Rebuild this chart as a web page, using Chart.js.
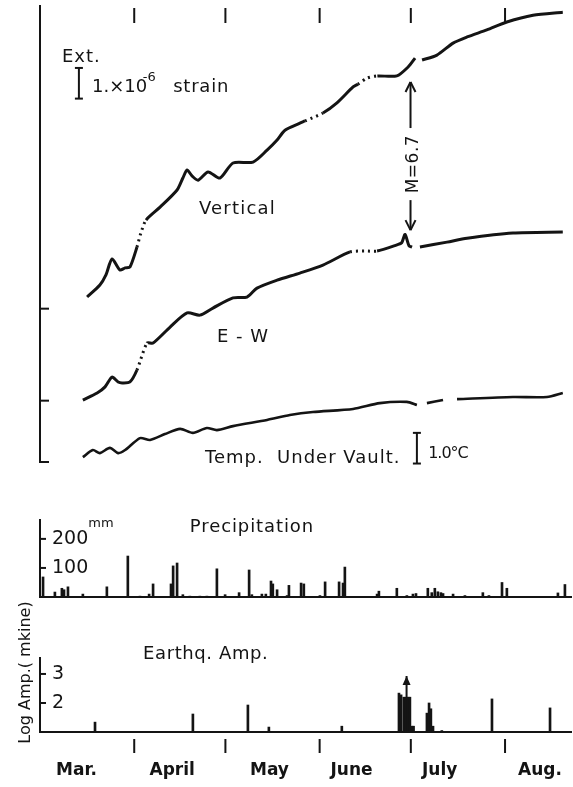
<!DOCTYPE html>
<html>
<head>
<meta charset="utf-8">
<script src="https://cdn.jsdelivr.net/npm/chart.js@4.4.1/dist/chart.umd.min.js"></script>
<style>
  body { margin: 0; background: #fff; }
  #wrap { position: relative; width: 573px; height: 787px; }
  canvas { position: absolute; left: 0; }
</style>
</head>
<body>
<div id="wrap">
  <canvas id="strainChart" width="573" height="472" style="top:0"></canvas>
  <canvas id="rainChart" width="573" height="125" style="top:480px"></canvas>
  <canvas id="quakeChart" width="573" height="197" style="top:590px"></canvas>
</div>
<script>
// time axis: days counted from March 1
const monthStarts = [31, 61, 92, 122, 153];
const monthNames = ["Mar.", "April", "May", "June", "July", "Aug."];
const monthLabelDays = [12, 43.5, 75.5, 102.5, 131.5, 164.5];

// strain traces, in units of 1e-6 strain (offset per trace)
const verticalDays = [15.5, 19.7, 21.7, 23.7, 26.3, 28.0, 29.6, 31.9, 33.2, 34.9, 39.5, 45.1, 47.0, 48.4, 50.0, 52.0, 55.3, 59.2, 63.5, 70.1, 74.7, 78.0, 80.6, 85.5, 87.2, 93.1, 97.7, 103.0, 104.6, 107.6, 111.0, 117.4, 121.1, 123.4, 124.5, 125.7, 130.6, 135.9, 140.5, 147.0, 153.6, 162.2, 172.0];
const verticalStrain = [5.38, 5.77, 6.10, 6.62, 6.26, 6.33, 6.36, 7.01, 7.47, 7.89, 8.31, 8.87, 9.26, 9.52, 9.33, 9.19, 9.46, 9.26, 9.75, 9.78, 10.17, 10.50, 10.82, 11.05, 11.12, 11.38, 11.71, 12.23, 12.32, 12.52, 12.59, 12.59, 12.88, 13.17, null, 13.11, 13.27, 13.66, 13.86, 14.09, 14.35, 14.57, 14.67];

const ewDays = [14.1, 18.8, 21.4, 23.7, 25.7, 27.0, 29.6, 31.9, 35.2, 37.2, 42.8, 48.4, 52.6, 56.9, 63.5, 68.1, 71.4, 78.0, 85.5, 93.1, 102.0, 106.9, 110.9, 117.4, 119.0, 120.1, 121.4, 122.4, 123.7, 125.0, 133.9, 140.5, 155.6, 172.0];
const ewStrain = [2.02, 2.25, 2.45, 2.77, 2.61, 2.58, 2.61, 3.00, 3.88, 3.88, 4.40, 4.86, 4.79, 5.02, 5.35, 5.38, 5.67, 5.93, 6.16, 6.42, 6.85, 6.88, 6.88, 7.08, 7.15, 7.42, 7.05, 7.01, null, 7.01, 7.17, 7.30, 7.47, 7.50];

// temperature under vault, deg C (offset)
const tempDays = [14.1, 17.4, 19.7, 23.0, 25.7, 28.0, 32.9, 36.2, 41.1, 46.1, 50.3, 54.9, 58.2, 63.5, 74.7, 82.2, 89.8, 103.0, 111.8, 120.7, 124.0, 125.5, 127.3, 132.6, 134.9, 137.2, 155.6, 166.8, 172.0];
const tempValues = [0.16, 0.39, 0.29, 0.46, 0.29, 0.39, 0.78, 0.72, 0.91, 1.08, 0.95, 1.11, 1.04, 1.17, 1.37, 1.53, 1.63, 1.73, 1.92, 1.96, 1.86, null, 1.92, 2.02, null, 2.05, 2.12, 2.12, 2.25];

const strainTicks = [0, 2, 5];

// precipitation, mm
const precipDays = [1.0, 4.9, 7.2, 7.9, 9.2, 14.1, 22.0, 28.9, 32.9, 35.9, 37.2, 43.1, 43.8, 45.1, 47.0, 49.3, 52.6, 54.9, 58.2, 60.9, 65.5, 68.8, 69.7, 73.0, 74.3, 76.0, 76.6, 78.0, 81.3, 81.9, 85.9, 86.8, 92.1, 93.8, 98.4, 99.7, 100.3, 110.9, 111.5, 117.4, 120.7, 122.7, 123.7, 127.6, 128.9, 129.9, 130.9, 131.9, 132.6, 135.9, 139.8, 145.7, 147.7, 152.0, 153.6, 170.4, 172.7];
const precipMm = [69, 17, 30, 25, 35, 10, 35, 141, 3, 10, 45, 45, 107, 117, 8, 3, 3, 3, 97, 8, 15, 93, 8, 10, 10, 55, 45, 25, 5, 40, 48, 45, 5, 52, 52, 48, 103, 10, 20, 30, 5, 10, 12, 30, 15, 30, 18, 15, 12, 10, 5, 15, 5, 50, 30, 14, 43];
const precipTicks = [100, 200];

// earthquake amplitude, log (mkine)
const quakeDays = [18.1, 50.3, 68.4, 75.3, 99.3, 118.1, 118.8, 119.7, 120.4, 121.1, 121.7, 122.4, 122.9, 127.3, 128.0, 128.6, 129.3, 132.2, 148.7, 167.8];
const quakeLogAmp = [1.34, 1.62, 1.93, 1.17, 1.2, 2.34, 2.28, 2.2, 2.2, 2.2, 2.2, 1.2, 1.2, 1.65, 2.0, 1.8, 1.2, 1.05, 2.14, 1.83];
const quakeTicks = [2, 3];

const mainShockDay = 121.9;   // M=6.7
const offScaleDay = 120.6;    // amplitude beyond scale

const ink = '#141414';
const FONT = '"DejaVu Sans", sans-serif';
const dayMax = 174.7;

const pts = (xs, ys) => xs.map((x, i) => ({ x: x, y: ys[i] }));

// stretches of the traces drawn dotted in the original
const dottedSpans = {
  vertical: [[31.9, 34.9], [87.2, 93.1], [104.6, 111.0]],
  ew: [[31.9, 35.2], [102.0, 110.9]],
  temp: []
};

function traceStyle(spans, width) {
  return {
    borderColor: ink,
    borderWidth: width,
    pointRadius: 0,
    tension: 0.25,
    fill: false,
    segment: {
      borderDash: c => {
        const mid = (c.p0.parsed.x + c.p1.parsed.x) / 2;
        return spans.some(s => mid > s[0] && mid < s[1]) ? [2, 4] : undefined;
      }
    }
  };
}

function text(ctx, str, x, y, size, spacing, extra) {
  ctx.save();
  ctx.font = (extra && extra.weight ? extra.weight + ' ' : '') + size + 'px ' + FONT;
  ctx.fillStyle = ink;
  ctx.letterSpacing = (spacing || 0) + 'px';
  ctx.textAlign = (extra && extra.align) || 'left';
  ctx.textBaseline = 'alphabetic';
  ctx.fillText(str, x, y);
  ctx.restore();
}

function line(ctx, x1, y1, x2, y2, w) {
  ctx.save();
  ctx.strokeStyle = ink;
  ctx.lineWidth = w || 2;
  ctx.beginPath();
  ctx.moveTo(x1, y1);
  ctx.lineTo(x2, y2);
  ctx.stroke();
  ctx.restore();
}

function bracket(ctx, x, yTop, yBot) {
  line(ctx, x, yTop, x, yBot, 2);
  line(ctx, x - 4, yTop, x + 4, yTop, 2);
  line(ctx, x - 4, yBot, x + 4, yBot, 2);
}

function arrowHead(ctx, x, yTip, dir) {
  // dir: -1 up, +1 down
  line(ctx, x - 5, yTip - dir * 10, x, yTip, 2);
  line(ctx, x + 5, yTip - dir * 10, x, yTip, 2);
}

// fixed axis sizes, no extra label padding so all three plots share one time scale
const fixedWidth = w => s => { s.width = w; s.paddingTop = 0; s.paddingBottom = 0; };
const fixedHeight = h => s => { s.height = h; s.paddingLeft = 0; s.paddingRight = 0; };

const strainDecor = {
  id: 'strainDecor',
  afterDraw(chart) {
    const { ctx, chartArea: a, scales: { x, y } } = chart;
    strainTicks.forEach(v => line(ctx, a.left, y.getPixelForValue(v), a.left + 9, y.getPixelForValue(v), 2));
    monthStarts.forEach(d => line(ctx, x.getPixelForValue(d), a.top + 2, x.getPixelForValue(d), a.top + 17, 2));

    text(ctx, 'Ext.', x.getPixelForValue(7.2), y.getPixelForValue(13.04), 18, 1);
    bracket(ctx, x.getPixelForValue(12.8), y.getPixelForValue(12.85), y.getPixelForValue(11.85));
    text(ctx, '1.×10', x.getPixelForValue(17.1), y.getPixelForValue(12.06), 18, 0);
    text(ctx, '-6', x.getPixelForValue(33.8), y.getPixelForValue(12.44), 13, 0);
    text(ctx, 'strain', x.getPixelForValue(43.8), y.getPixelForValue(12.06), 18, 0.8);

    text(ctx, 'Vertical', x.getPixelForValue(52.3), y.getPixelForValue(8.09), 18, 1.2);
    text(ctx, 'E - W', x.getPixelForValue(58.2), y.getPixelForValue(3.91), 18, 1);
    text(ctx, 'Temp.', x.getPixelForValue(54.3), y.getPixelForValue(-0.03), 18, 1);
    text(ctx, 'Under Vault.', x.getPixelForValue(78.0), y.getPixelForValue(-0.03), 18, 1);
    bracket(ctx, x.getPixelForValue(124.0), y.getPixelForValue(0.95), y.getPixelForValue(-0.05));
    text(ctx, '1.0°C', x.getPixelForValue(127.7), y.getPixelForValue(0.13), 16, -1);

    // M=6.7 arrow
    const ax = x.getPixelForValue(mainShockDay);
    const yUp = y.getPixelForValue(12.39), yUpEnd = y.getPixelForValue(10.89);
    const yDn = y.getPixelForValue(7.56), yDnEnd = y.getPixelForValue(8.54);
    line(ctx, ax, yUp, ax, yUpEnd, 2);
    arrowHead(ctx, ax, yUp, -1);
    line(ctx, ax, yDnEnd, ax, yDn, 2);
    arrowHead(ctx, ax, yDn, 1);
    ctx.save();
    ctx.translate(ax + 7, (yUpEnd + yDnEnd) / 2);
    ctx.rotate(-Math.PI / 2);
    text(ctx, 'M=6.7', 0, 0, 17, 0.5, { align: 'center' });
    ctx.restore();
  }
};

new Chart(document.getElementById('strainChart'), {
  type: 'line',
  data: {
    datasets: [
      Object.assign({ data: pts(verticalDays, verticalStrain) }, traceStyle(dottedSpans.vertical, 3)),
      Object.assign({ data: pts(ewDays, ewStrain) }, traceStyle(dottedSpans.ew, 3)),
      Object.assign({ data: pts(tempDays, tempValues) }, traceStyle(dottedSpans.temp, 2.6))
    ]
  },
  options: {
    responsive: false,
    animation: false,
    layout: { padding: { top: 6, right: 2, bottom: 10, left: 0 } },
    plugins: { legend: { display: false }, tooltip: { enabled: false } },
    scales: {
      x: { type: 'linear', min: 0, max: dayMax, display: false },
      y: {
        min: 0, max: 14.87,
        ticks: { display: false },
        grid: { display: false },
        border: { display: true, width: 2, color: ink },
        afterFit: fixedWidth(40)
      }
    }
  },
  plugins: [strainDecor]
});

const rainDecor = {
  id: 'rainDecor',
  afterDraw(chart) {
    const { ctx, chartArea: a, scales: { x, y } } = chart;
    precipTicks.forEach(v => line(ctx, a.left, y.getPixelForValue(v), a.left + 6, y.getPixelForValue(v), 2));
    text(ctx, 'mm', x.getPixelForValue(15.9), y.getPixelForValue(241), 13, 0);
    text(ctx, 'Precipitation', x.getPixelForValue(49.3), y.getPixelForValue(224), 18, 0.9);
  }
};

new Chart(document.getElementById('rainChart'), {
  type: 'bar',
  data: {
    datasets: [{
      data: pts(precipDays, precipMm),
      backgroundColor: ink,
      barThickness: 2
    }]
  },
  options: {
    responsive: false,
    animation: false,
    layout: { padding: { top: 40, right: 2, bottom: 8, left: 0 } },
    plugins: { legend: { display: false }, tooltip: { enabled: false } },
    scales: {
      x: {
        type: 'linear', min: 0, max: dayMax, offset: false,
        ticks: { display: false },
        grid: { display: false },
        border: { display: true, width: 2, color: ink },
        afterFit: fixedHeight(0)
      },
      y: {
        min: 0, max: 265,
        afterBuildTicks: s => { s.ticks = precipTicks.map(v => ({ value: v })); },
        ticks: { mirror: true, padding: 12, color: ink, font: { family: FONT, size: 19 } },
        grid: { display: false },
        border: { display: true, width: 2, color: ink },
        afterFit: fixedWidth(40)
      }
    }
  },
  plugins: [rainDecor]
});

const quakeDecor = {
  id: 'quakeDecor',
  afterDraw(chart) {
    const { ctx, chartArea: a, scales: { x, y } } = chart;
    quakeTicks.forEach(v => line(ctx, a.left, y.getPixelForValue(v), a.left + 6, y.getPixelForValue(v), 2));
    monthStarts.forEach(d => line(ctx, x.getPixelForValue(d), a.bottom + 7, x.getPixelForValue(d), a.bottom + 21, 2));
    text(ctx, 'Earthq. Amp.', x.getPixelForValue(33.9), y.getPixelForValue(3.5), 18, 0.6);

    // arrow for off-scale amplitude
    const ox = x.getPixelForValue(offScaleDay);
    const tip = y.getPixelForValue(2.93);
    line(ctx, ox, y.getPixelForValue(2.2), ox, tip, 2);
    ctx.save();
    ctx.fillStyle = ink;
    ctx.beginPath();
    ctx.moveTo(ox, tip);
    ctx.lineTo(ox - 4, tip + 9);
    ctx.lineTo(ox + 4, tip + 9);
    ctx.closePath();
    ctx.fill();
    ctx.restore();

    // rotated axis title
    ctx.save();
    ctx.translate(a.left - 10, y.getPixelForValue(3.05));
    ctx.rotate(-Math.PI / 2);
    text(ctx, 'Log Amp.( mkine)', 0, 0, 16, 0, { align: 'center' });
    ctx.restore();
  }
};

new Chart(document.getElementById('quakeChart'), {
  type: 'bar',
  data: {
    datasets: [{
      data: pts(quakeDays, quakeLogAmp),
      backgroundColor: ink,
      barThickness: 2
    }]
  },
  options: {
    responsive: false,
    animation: false,
    layout: { padding: { top: 68, right: 2, bottom: 0, left: 0 } },
    plugins: { legend: { display: false }, tooltip: { enabled: false } },
    scales: {
      x: {
        type: 'linear', min: 0, max: dayMax, offset: false,
        afterBuildTicks: s => { s.ticks = monthLabelDays.map(v => ({ value: v })); },
        ticks: {
          autoSkip: false, maxRotation: 0, padding: 28, color: ink,
          font: { family: FONT, size: 17, weight: 'bold' },
          callback: (v, i) => monthNames[i]
        },
        grid: { display: false, drawTicks: false },
        border: { display: true, width: 2, color: ink },
        afterFit: fixedHeight(55)
      },
      y: {
        min: 1, max: 3.55,
        afterBuildTicks: s => { s.ticks = quakeTicks.map(v => ({ value: v })); },
        ticks: { mirror: true, padding: 12, color: ink, font: { family: FONT, size: 19 } },
        grid: { display: false },
        border: { display: true, width: 2, color: ink },
        afterFit: fixedWidth(40)
      }
    }
  },
  plugins: [quakeDecor]
});
</script>
</body>
</html>
